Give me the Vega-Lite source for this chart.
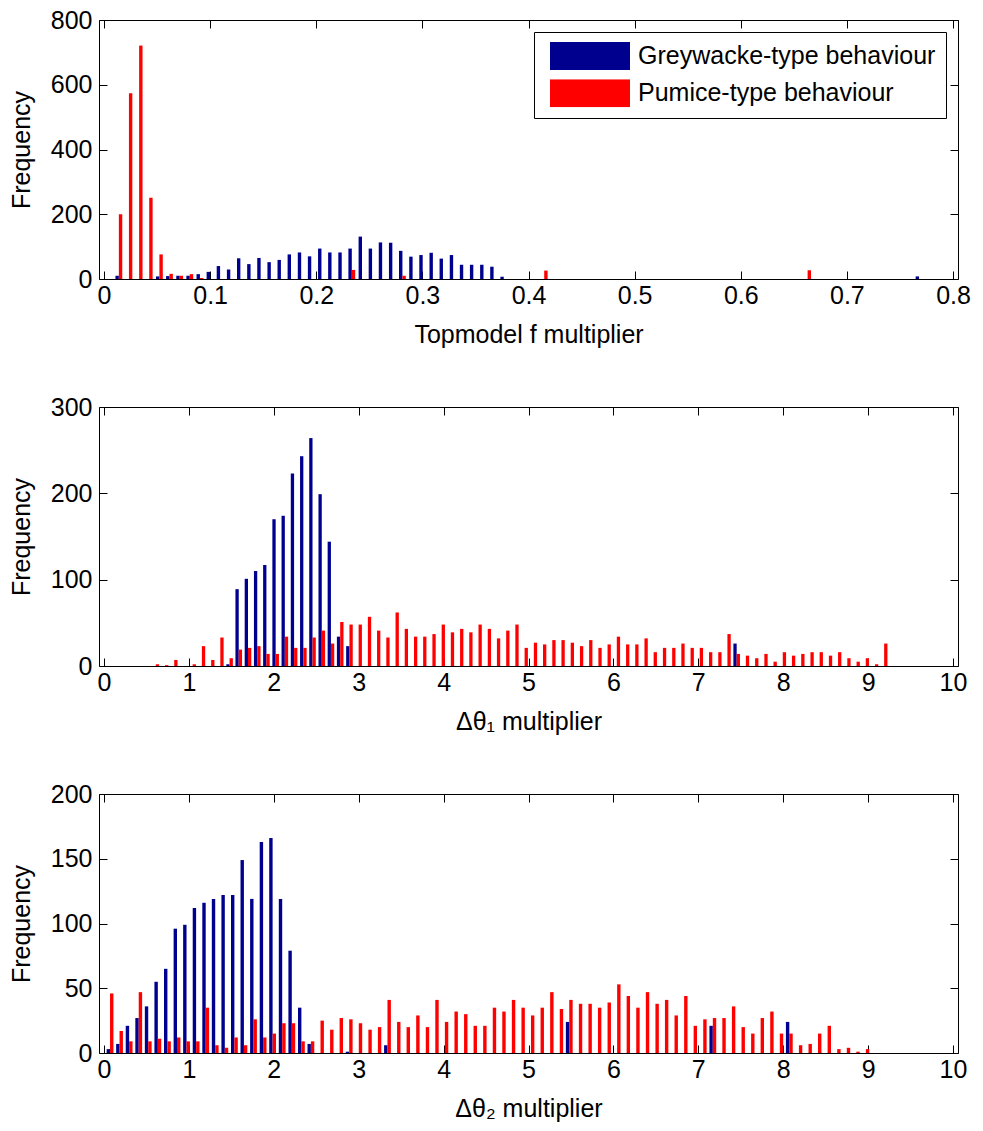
{
  "$schema": "https://vega.github.io/schema/vega-lite/v6.json",
  "background": "white",
  "padding": {"left": 8, "top": 7, "right": 10, "bottom": 5},
  "spacing": 128,
  "bounds": "flush",
  "config": {
    "font": "Liberation Sans",
    "view": {"stroke": "black", "strokeWidth": 1},
    "axis": {
      "grid": false, "domain": false, "tickColor": "black", "tickSize": -8, "tickWidth": 1,
      "labelFont": "Liberation Sans", "labelFontSize": 25, "labelColor": "black", "labelPadding": 12,
      "titleFont": "Liberation Sans", "titleFontSize": 25, "titleFontWeight": "normal", "titleColor": "black",
      "titlePadding": 14, "zindex": 1
    },
    "axisLeft": {"labelPadding": 15, "titlePadding": 16}
  },
  "datasets": {
    "p1": [
      {"x":0.0140,"series":"Greywacke","count":10},{"x":0.0522,"series":"Greywacke","count":8},{"x":0.0617,"series":"Greywacke","count":9},
      {"x":0.0713,"series":"Greywacke","count":10},{"x":0.0808,"series":"Greywacke","count":10},{"x":0.0904,"series":"Greywacke","count":15},
      {"x":0.0999,"series":"Greywacke","count":22},{"x":0.1094,"series":"Greywacke","count":40},{"x":0.1190,"series":"Greywacke","count":29},
      {"x":0.1285,"series":"Greywacke","count":64},{"x":0.1381,"series":"Greywacke","count":46},{"x":0.1476,"series":"Greywacke","count":65},
      {"x":0.1572,"series":"Greywacke","count":52},{"x":0.1667,"series":"Greywacke","count":59},{"x":0.1762,"series":"Greywacke","count":76},
      {"x":0.1858,"series":"Greywacke","count":82},{"x":0.1953,"series":"Greywacke","count":70},{"x":0.2049,"series":"Greywacke","count":94},
      {"x":0.2144,"series":"Greywacke","count":82},{"x":0.2240,"series":"Greywacke","count":82},{"x":0.2335,"series":"Greywacke","count":94},
      {"x":0.2431,"series":"Greywacke","count":131},{"x":0.2526,"series":"Greywacke","count":94},{"x":0.2621,"series":"Greywacke","count":113},
      {"x":0.2717,"series":"Greywacke","count":112},{"x":0.2812,"series":"Greywacke","count":87},{"x":0.2908,"series":"Greywacke","count":69},
      {"x":0.3003,"series":"Greywacke","count":74},{"x":0.3099,"series":"Greywacke","count":81},{"x":0.3194,"series":"Greywacke","count":63},
      {"x":0.3290,"series":"Greywacke","count":74},{"x":0.3385,"series":"Greywacke","count":44},{"x":0.3480,"series":"Greywacke","count":44},
      {"x":0.3576,"series":"Greywacke","count":44},{"x":0.3671,"series":"Greywacke","count":38},{"x":0.3767,"series":"Greywacke","count":7},
      {"x":0.7680,"series":"Greywacke","count":8},
      {"x":0.0140,"series":"Pumice","count":200},{"x":0.0235,"series":"Pumice","count":574},{"x":0.0331,"series":"Pumice","count":721},
      {"x":0.0426,"series":"Pumice","count":251},{"x":0.0522,"series":"Pumice","count":76},{"x":0.0617,"series":"Pumice","count":16},
      {"x":0.0713,"series":"Pumice","count":10},{"x":0.0808,"series":"Pumice","count":15},{"x":0.0904,"series":"Pumice","count":3},
      {"x":0.2335,"series":"Pumice","count":28},{"x":0.2812,"series":"Pumice","count":10},{"x":0.4148,"series":"Pumice","count":26},
      {"x":0.6630,"series":"Pumice","count":27}
    ],
    "p2": [
      {"x":1.479,"series":"Greywacke","count":2},{"x":1.587,"series":"Greywacke","count":89},{"x":1.696,"series":"Greywacke","count":101},
      {"x":1.805,"series":"Greywacke","count":110},{"x":1.913,"series":"Greywacke","count":117},{"x":2.022,"series":"Greywacke","count":170},
      {"x":2.130,"series":"Greywacke","count":174},{"x":2.239,"series":"Greywacke","count":223},{"x":2.348,"series":"Greywacke","count":243},
      {"x":2.456,"series":"Greywacke","count":264},{"x":2.565,"series":"Greywacke","count":199},{"x":2.673,"series":"Greywacke","count":144},
      {"x":2.782,"series":"Greywacke","count":34},{"x":2.891,"series":"Greywacke","count":23},{"x":7.452,"series":"Greywacke","count":26},
      {"x":0.610,"series":"Pumice","count":2},{"x":0.719,"series":"Pumice","count":1},{"x":0.827,"series":"Pumice","count":7},
      {"x":1.044,"series":"Pumice","count":2},{"x":1.153,"series":"Pumice","count":23},{"x":1.262,"series":"Pumice","count":7},
      {"x":1.370,"series":"Pumice","count":33},{"x":1.479,"series":"Pumice","count":9},{"x":1.587,"series":"Pumice","count":19},
      {"x":1.696,"series":"Pumice","count":21},{"x":1.805,"series":"Pumice","count":23},{"x":1.913,"series":"Pumice","count":14},
      {"x":2.022,"series":"Pumice","count":14},{"x":2.130,"series":"Pumice","count":34},{"x":2.239,"series":"Pumice","count":21},
      {"x":2.348,"series":"Pumice","count":21},{"x":2.456,"series":"Pumice","count":33},{"x":2.565,"series":"Pumice","count":41},
      {"x":2.673,"series":"Pumice","count":26},{"x":2.782,"series":"Pumice","count":51},{"x":2.891,"series":"Pumice","count":48},
      {"x":2.999,"series":"Pumice","count":48},{"x":3.108,"series":"Pumice","count":57},{"x":3.216,"series":"Pumice","count":41},
      {"x":3.325,"series":"Pumice","count":33},{"x":3.434,"series":"Pumice","count":62},{"x":3.542,"series":"Pumice","count":43},
      {"x":3.651,"series":"Pumice","count":34},{"x":3.759,"series":"Pumice","count":34},{"x":3.868,"series":"Pumice","count":37},
      {"x":3.977,"series":"Pumice","count":48},{"x":4.085,"series":"Pumice","count":39},{"x":4.194,"series":"Pumice","count":43},
      {"x":4.302,"series":"Pumice","count":39},{"x":4.411,"series":"Pumice","count":48},{"x":4.520,"series":"Pumice","count":43},
      {"x":4.628,"series":"Pumice","count":32},{"x":4.737,"series":"Pumice","count":41},{"x":4.845,"series":"Pumice","count":48},
      {"x":4.954,"series":"Pumice","count":21},{"x":5.063,"series":"Pumice","count":27},{"x":5.171,"series":"Pumice","count":25},
      {"x":5.280,"series":"Pumice","count":30},{"x":5.388,"series":"Pumice","count":30},{"x":5.497,"series":"Pumice","count":27},
      {"x":5.606,"series":"Pumice","count":23},{"x":5.714,"series":"Pumice","count":30},{"x":5.823,"series":"Pumice","count":21},
      {"x":5.931,"series":"Pumice","count":25},{"x":6.040,"series":"Pumice","count":34},{"x":6.149,"series":"Pumice","count":25},
      {"x":6.257,"series":"Pumice","count":25},{"x":6.366,"series":"Pumice","count":32},{"x":6.474,"series":"Pumice","count":16},
      {"x":6.583,"series":"Pumice","count":21},{"x":6.692,"series":"Pumice","count":21},{"x":6.800,"series":"Pumice","count":26},
      {"x":6.909,"series":"Pumice","count":21},{"x":7.017,"series":"Pumice","count":21},{"x":7.126,"series":"Pumice","count":16},
      {"x":7.235,"series":"Pumice","count":16},{"x":7.343,"series":"Pumice","count":37},{"x":7.452,"series":"Pumice","count":14},
      {"x":7.560,"series":"Pumice","count":12},{"x":7.669,"series":"Pumice","count":9},{"x":7.778,"series":"Pumice","count":14},
      {"x":7.886,"series":"Pumice","count":5},{"x":7.995,"series":"Pumice","count":16},{"x":8.103,"series":"Pumice","count":12},
      {"x":8.212,"series":"Pumice","count":14},{"x":8.321,"series":"Pumice","count":16},{"x":8.429,"series":"Pumice","count":16},
      {"x":8.538,"series":"Pumice","count":12},{"x":8.646,"series":"Pumice","count":16},{"x":8.755,"series":"Pumice","count":9},
      {"x":8.864,"series":"Pumice","count":5},{"x":8.972,"series":"Pumice","count":9},{"x":9.081,"series":"Pumice","count":2},
      {"x":9.189,"series":"Pumice","count":26}
    ],
    "p3": [
      {"x":0.071,"series":"Greywacke","count":3},{"x":0.183,"series":"Greywacke","count":7},{"x":0.296,"series":"Greywacke","count":21},
      {"x":0.409,"series":"Greywacke","count":27},{"x":0.521,"series":"Greywacke","count":36},{"x":0.634,"series":"Greywacke","count":55},
      {"x":0.747,"series":"Greywacke","count":65},{"x":0.860,"series":"Greywacke","count":96},{"x":0.972,"series":"Greywacke","count":99},
      {"x":1.085,"series":"Greywacke","count":112},{"x":1.198,"series":"Greywacke","count":116},{"x":1.310,"series":"Greywacke","count":119},
      {"x":1.423,"series":"Greywacke","count":122},{"x":1.536,"series":"Greywacke","count":122},{"x":1.648,"series":"Greywacke","count":149},
      {"x":1.761,"series":"Greywacke","count":119},{"x":1.874,"series":"Greywacke","count":163},{"x":1.986,"series":"Greywacke","count":166},
      {"x":2.099,"series":"Greywacke","count":119},{"x":2.212,"series":"Greywacke","count":79},{"x":2.325,"series":"Greywacke","count":35},
      {"x":2.437,"series":"Greywacke","count":7},{"x":2.888,"series":"Greywacke","count":1},{"x":3.339,"series":"Greywacke","count":6},
      {"x":5.480,"series":"Greywacke","count":24},{"x":7.171,"series":"Greywacke","count":21},{"x":8.072,"series":"Greywacke","count":24},
      {"x":0.071,"series":"Pumice","count":46},{"x":0.183,"series":"Pumice","count":17},{"x":0.296,"series":"Pumice","count":9},
      {"x":0.409,"series":"Pumice","count":47},{"x":0.521,"series":"Pumice","count":9},{"x":0.634,"series":"Pumice","count":11},
      {"x":0.747,"series":"Pumice","count":9},{"x":0.860,"series":"Pumice","count":12},{"x":0.972,"series":"Pumice","count":9},
      {"x":1.085,"series":"Pumice","count":9},{"x":1.198,"series":"Pumice","count":35},{"x":1.310,"series":"Pumice","count":6},
      {"x":1.423,"series":"Pumice","count":4},{"x":1.536,"series":"Pumice","count":12},{"x":1.648,"series":"Pumice","count":6},
      {"x":1.761,"series":"Pumice","count":26},{"x":1.874,"series":"Pumice","count":12},{"x":1.986,"series":"Pumice","count":15},
      {"x":2.099,"series":"Pumice","count":23},{"x":2.212,"series":"Pumice","count":23},{"x":2.325,"series":"Pumice","count":9},
      {"x":2.437,"series":"Pumice","count":9},{"x":2.550,"series":"Pumice","count":25},{"x":2.663,"series":"Pumice","count":18},
      {"x":2.775,"series":"Pumice","count":27},{"x":2.888,"series":"Pumice","count":26},{"x":3.001,"series":"Pumice","count":23},
      {"x":3.114,"series":"Pumice","count":18},{"x":3.226,"series":"Pumice","count":20},{"x":3.339,"series":"Pumice","count":41},
      {"x":3.452,"series":"Pumice","count":24},{"x":3.564,"series":"Pumice","count":20},{"x":3.677,"series":"Pumice","count":29},
      {"x":3.790,"series":"Pumice","count":20},{"x":3.902,"series":"Pumice","count":41},{"x":4.015,"series":"Pumice","count":24},
      {"x":4.128,"series":"Pumice","count":32},{"x":4.241,"series":"Pumice","count":30},{"x":4.353,"series":"Pumice","count":21},
      {"x":4.466,"series":"Pumice","count":21},{"x":4.579,"series":"Pumice","count":35},{"x":4.691,"series":"Pumice","count":32},
      {"x":4.804,"series":"Pumice","count":41},{"x":4.917,"series":"Pumice","count":35},{"x":5.029,"series":"Pumice","count":29},
      {"x":5.142,"series":"Pumice","count":35},{"x":5.255,"series":"Pumice","count":47},{"x":5.368,"series":"Pumice","count":34},
      {"x":5.480,"series":"Pumice","count":41},{"x":5.593,"series":"Pumice","count":38},{"x":5.706,"series":"Pumice","count":38},
      {"x":5.818,"series":"Pumice","count":35},{"x":5.931,"series":"Pumice","count":39},{"x":6.044,"series":"Pumice","count":53},
      {"x":6.156,"series":"Pumice","count":44},{"x":6.269,"series":"Pumice","count":35},{"x":6.382,"series":"Pumice","count":47},
      {"x":6.495,"series":"Pumice","count":38},{"x":6.607,"series":"Pumice","count":41},{"x":6.720,"series":"Pumice","count":29},
      {"x":6.833,"series":"Pumice","count":44},{"x":6.945,"series":"Pumice","count":21},{"x":7.058,"series":"Pumice","count":26},
      {"x":7.171,"series":"Pumice","count":27},{"x":7.283,"series":"Pumice","count":27},{"x":7.396,"series":"Pumice","count":36},
      {"x":7.509,"series":"Pumice","count":20},{"x":7.622,"series":"Pumice","count":15},{"x":7.734,"series":"Pumice","count":27},
      {"x":7.847,"series":"Pumice","count":32},{"x":7.960,"series":"Pumice","count":15},{"x":8.072,"series":"Pumice","count":15},
      {"x":8.185,"series":"Pumice","count":6},{"x":8.298,"series":"Pumice","count":7},{"x":8.410,"series":"Pumice","count":15},
      {"x":8.523,"series":"Pumice","count":21},{"x":8.636,"series":"Pumice","count":3},{"x":8.749,"series":"Pumice","count":4},
      {"x":8.861,"series":"Pumice","count":1},{"x":8.974,"series":"Pumice","count":3}
    ]
  },
  "vconcat": [
    {
      "width": 859, "height": 259,
      "data": {"name": "p1"},
      "layer": [
        {
          "transform": [{"filter": "datum.series === 'Greywacke'"}],
          "mark": {"type": "bar", "orient": "vertical", "size": 3.4, "xOffset": -1.7},
          "encoding": {
            "x": {"field": "x", "type": "quantitative", "scale": {"domain": [0, 0.8], "nice": false, "zero": false},
                  "axis": {"orient": "bottom", "values": [0, 0.1, 0.2, 0.3, 0.4, 0.5, 0.6, 0.7, 0.8], "format": "~g", "title": "Topmodel f multiplier"}},
            "y": {"field": "count", "type": "quantitative", "scale": {"domain": [0, 800], "nice": false},
                  "axis": {"orient": "left", "values": [0, 200, 400, 600, 800], "title": "Frequency"}},
            "color": {"field": "series", "type": "nominal",
                      "scale": {"domain": ["Greywacke", "Pumice"], "range": ["#00008F", "#FF0000"]},
                      "legend": {"orient": "top-right", "offset": 12, "title": null,
                                 "labelExpr": "datum.label + '-type behaviour'",
                                 "symbolType": "M-1,-0.35H1V0.35H-1Z", "symbolSize": 6400, "symbolStrokeWidth": 0,
                                 "clipHeight": 28, "rowPadding": 9.3, "padding": 10, "symbolOffset": 6, "labelOffset": 8,
                                 "labelFont": "Liberation Sans", "labelFontSize": 25, "labelColor": "black", "labelLimit": 500,
                                 "strokeColor": "black", "fillColor": "white", "cornerRadius": 0}}
          }
        },
        {
          "transform": [{"filter": "datum.series === 'Pumice'"}],
          "mark": {"type": "bar", "orient": "vertical", "size": 3.4, "xOffset": 1.7},
          "encoding": {
            "x": {"field": "x", "type": "quantitative",
                  "axis": {"orient": "top", "values": [0, 0.1, 0.2, 0.3, 0.4, 0.5, 0.6, 0.7, 0.8], "labels": false, "title": null}},
            "y": {"field": "count", "type": "quantitative",
                  "axis": {"orient": "right", "values": [0, 200, 400, 600, 800], "labels": false, "title": null}},
            "color": {"field": "series", "type": "nominal"}
          }
        }
      ],
      "resolve": {"axis": {"x": "independent", "y": "independent"}}
    },
    {
      "width": 859, "height": 259,
      "data": {"name": "p2"},
      "layer": [
        {
          "transform": [{"filter": "datum.series === 'Greywacke'"}],
          "mark": {"type": "bar", "orient": "vertical", "size": 3.3, "xOffset": -1.65, "color": "#00008F"},
          "encoding": {
            "x": {"field": "x", "type": "quantitative", "scale": {"domain": [0, 10], "nice": false, "zero": false},
                  "axis": {"orient": "bottom", "values": [0, 1, 2, 3, 4, 5, 6, 7, 8, 9, 10], "title": "Δθ₁ multiplier"}},
            "y": {"field": "count", "type": "quantitative", "scale": {"domain": [0, 300], "nice": false},
                  "axis": {"orient": "left", "values": [0, 100, 200, 300], "title": "Frequency"}}
          }
        },
        {
          "transform": [{"filter": "datum.series === 'Pumice'"}],
          "mark": {"type": "bar", "orient": "vertical", "size": 3.3, "xOffset": 1.65, "color": "#FF0000"},
          "encoding": {
            "x": {"field": "x", "type": "quantitative",
                  "axis": {"orient": "top", "values": [0, 1, 2, 3, 4, 5, 6, 7, 8, 9, 10], "labels": false, "title": null}},
            "y": {"field": "count", "type": "quantitative",
                  "axis": {"orient": "right", "values": [0, 100, 200, 300], "labels": false, "title": null}}
          }
        }
      ],
      "resolve": {"axis": {"x": "independent", "y": "independent"}}
    },
    {
      "width": 859, "height": 259,
      "data": {"name": "p3"},
      "layer": [
        {
          "transform": [{"filter": "datum.series === 'Greywacke'"}],
          "mark": {"type": "bar", "orient": "vertical", "size": 3.4, "xOffset": -1.7, "color": "#00008F"},
          "encoding": {
            "x": {"field": "x", "type": "quantitative", "scale": {"domain": [0, 10], "nice": false, "zero": false},
                  "axis": {"orient": "bottom", "values": [0, 1, 2, 3, 4, 5, 6, 7, 8, 9, 10], "title": "Δθ₂ multiplier"}},
            "y": {"field": "count", "type": "quantitative", "scale": {"domain": [0, 200], "nice": false},
                  "axis": {"orient": "left", "values": [0, 50, 100, 150, 200], "title": "Frequency"}}
          }
        },
        {
          "transform": [{"filter": "datum.series === 'Pumice'"}],
          "mark": {"type": "bar", "orient": "vertical", "size": 3.4, "xOffset": 1.7, "color": "#FF0000"},
          "encoding": {
            "x": {"field": "x", "type": "quantitative",
                  "axis": {"orient": "top", "values": [0, 1, 2, 3, 4, 5, 6, 7, 8, 9, 10], "labels": false, "title": null}},
            "y": {"field": "count", "type": "quantitative",
                  "axis": {"orient": "right", "values": [0, 50, 100, 150, 200], "labels": false, "title": null}}
          }
        }
      ],
      "resolve": {"axis": {"x": "independent", "y": "independent"}}
    }
  ]
}
